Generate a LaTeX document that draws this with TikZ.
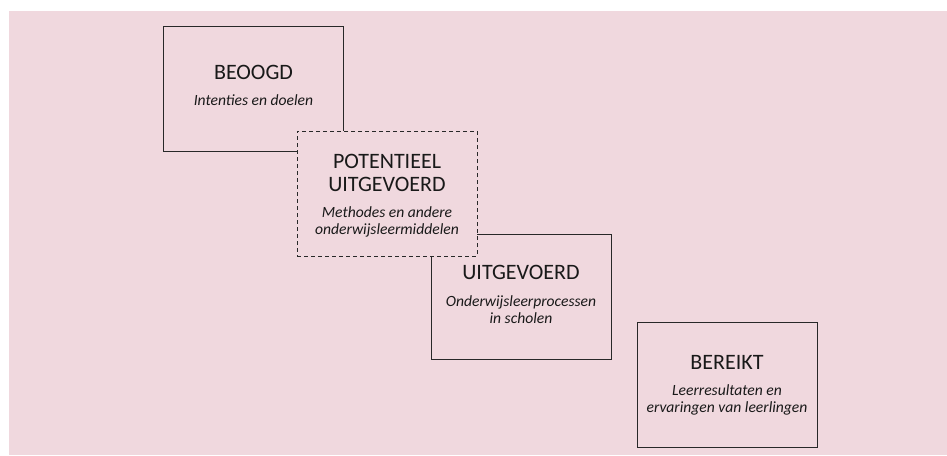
\documentclass[tikz,border=0pt]{standalone}
\usepackage{fontspec}
\setmainfont{Carlito}
\usetikzlibrary{positioning}

\definecolor{roze}{RGB}{240,216,222}
\definecolor{lijn}{RGB}{40,40,40}

\tikzset{
    vak/.style={draw=lijn, line width=0.9pt, minimum width=180pt, minimum height=125pt, inner sep=0pt},
    stippelvak/.style={vak, fill=roze, dash pattern=on 4pt off 3pt},
    titel/.style={font=\fontsize{22}{23}\selectfont, align=center, inner sep=0pt, text=black!90},
    uitleg/.style={font=\fontsize{15.6}{17}\selectfont\itshape, align=center, inner sep=0pt, text=black!90}
}

\begin{document}
\begin{tikzpicture}[x=1pt, y=-1pt]
    % Achtergrond
    \useasboundingbox (0,0) rectangle (947,455);
    \fill[roze] (9,11) rectangle (947,455);

    % Vakken
    \node[vak] (beoogd) at (253.5,88.5) {};
    \node[vak] (uitgevoerd) at (521,296.5) {};
    \node[vak] (bereikt) at (727,385) {};
    \node[stippelvak] (potentieel) at (387,193.5) {};

    % Teksten
    \node[titel] (t1) at ([yshift=-47pt]beoogd.north) {BEOOGD};
    \node[uitleg] (u1) at ([yshift=-75pt]beoogd.north) {Intenties en doelen};

    \node[titel] (t2) at ([yshift=-42.5pt]potentieel.north) {POTENTIEEL\\UITGEVOERD};
    \node[uitleg] (u2) at ([yshift=-91.5pt]potentieel.north) {Methodes en andere\\onderwijsleermiddelen};

    \node[titel] (t3) at ([yshift=-39pt]uitgevoerd.north) {UITGEVOERD};
    \node[uitleg] (u3) at ([yshift=-76.5pt]uitgevoerd.north) {Onderwijsleerprocessen\\in scholen};

    \node[titel] (t4) at ([yshift=-40pt]bereikt.north) {BEREIKT};
    \node[uitleg] (u4) at ([yshift=-77.5pt]bereikt.north) {Leerresultaten en\\ervaringen van leerlingen};
\end{tikzpicture}
\end{document}
